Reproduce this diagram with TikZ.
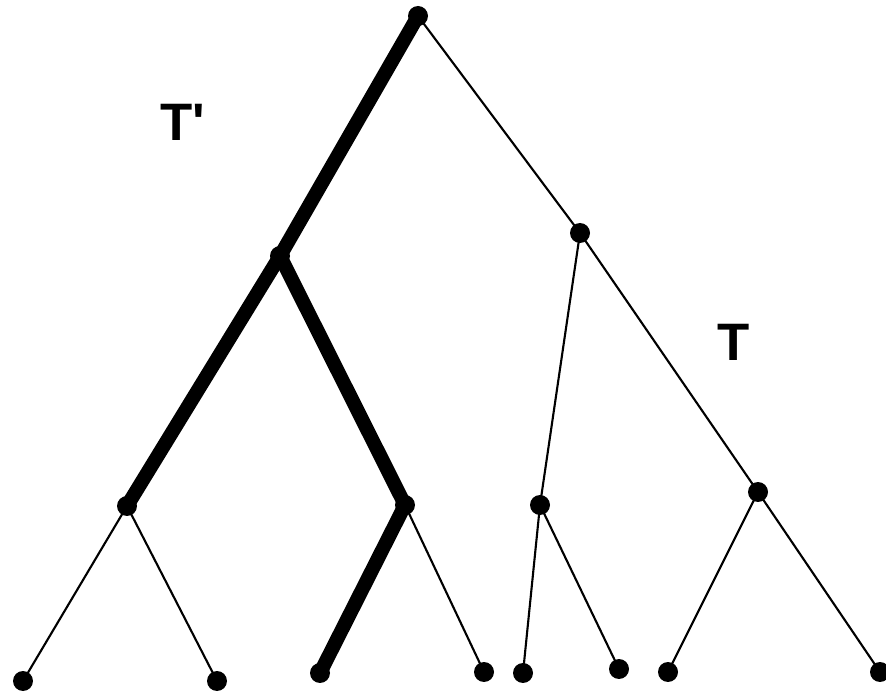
\documentclass[tikz,border=0pt]{standalone}
\usepackage{fontspec}
\setmainfont{Liberation Sans}
\begin{document}
\begin{tikzpicture}[
  x=0.02cm, y=-0.02cm,
  vertex/.style = {circle, fill=black, inner sep=0pt, minimum size=0.40cm},
  thinedge/.style = {line width=1.2pt, black},
  thickedge/.style = {line width=8pt, black, line join=miter, line cap=round},
  treelabel/.style = {font=\fontsize{30}{30}\selectfont\bfseries, inner sep=0pt},
]
\useasboundingbox (0,0) rectangle (886,692);

%% ── Internal vertices ────────────────────────────────────────────────────────
\node[vertex] (root) at (418, 16) {};
\node[vertex] (A)    at (280, 256) {};
\node[vertex] (B)    at (580, 233) {};
\node[vertex] (C)    at (127, 506) {};
\node[vertex] (D)    at (405, 505) {};
\node[vertex] (E)    at (540, 505) {};
\node[vertex] (F)    at (758, 492) {};

%% ── Leaves ───────────────────────────────────────────────────────────────────
\node[vertex] (L1) at (23, 681) {};
\node[vertex] (L2) at (217, 681) {};
\node[vertex] (L3) at (320, 673) {};
\node[vertex] (L4) at (484, 672) {};
\node[vertex] (L5) at (523, 673) {};
\node[vertex] (L6) at (619, 669) {};
\node[vertex] (L7) at (668, 672) {};
\node[vertex] (L8) at (880, 672) {};

%% ── Tree T (thin edges) ──────────────────────────────────────────────────────
\draw[thinedge] (root.center) -- (B.center);
\draw[thinedge] (B.center) -- (E.center);
\draw[thinedge] (B.center) -- (F.center);
\draw[thinedge] (C.center) -- (L1.center);
\draw[thinedge] (C.center) -- (L2.center);
\draw[thinedge] (D.center) -- (L4.center);
\draw[thinedge] (E.center) -- (L5.center);
\draw[thinedge] (E.center) -- (L6.center);
\draw[thinedge] (F.center) -- (L7.center);
\draw[thinedge] (F.center) -- (L8.center);

%% ── Subtree T' (thick edges) ─────────────────────────────────────────────────
\draw[thickedge] (root.center) -- (A.center) -- (D.center) -- (L3.center);
\draw[thickedge] (A.center) -- (C.center);

%% ── Labels ───────────────────────────────────────────────────────────────────
\node[treelabel] (labTp) at (183, 122) {T\textquotesingle};
\node[treelabel] (labT)  at (734, 342) {T};

\end{tikzpicture}
\end{document}
